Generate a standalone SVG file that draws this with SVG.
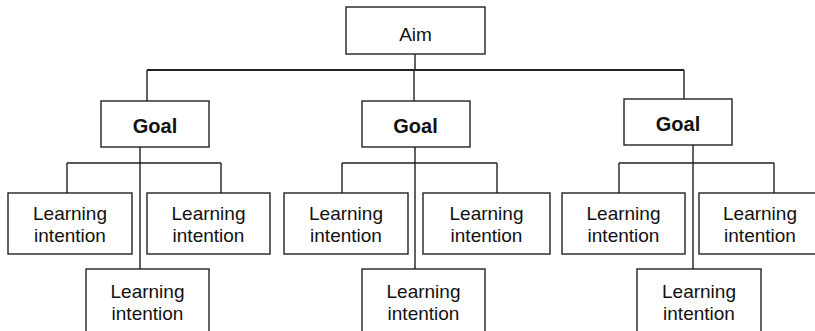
<svg xmlns="http://www.w3.org/2000/svg" width="815" height="331" viewBox="0 0 815 331">
<style>
.box{fill:#fff;stroke:#222;stroke-width:1.4}
.ln{fill:none;stroke:#222;stroke-width:1.4}
.thick{stroke-width:2}
.t{font-family:"Liberation Sans",Arial,Helvetica,sans-serif;font-size:19px;fill:#111;text-anchor:middle}
.g{font-family:"Liberation Sans",Arial,Helvetica,sans-serif;font-size:20px;font-weight:bold;fill:#111;text-anchor:middle}
</style>
<rect width="815" height="331" fill="#fff"/>
<g id="connectors">
<path class="ln" d="M415,54V70M147,70V101M414,70V101M684,70V99"/>
<path class="ln thick" d="M147,70H684"/>
<path class="ln" d="M140,147V269M67,163H221M67,163V193M221,163V193"/>
<path class="ln" d="M415,147V269M342,163H497M342,163V193M497,163V193"/>
<path class="ln" d="M693,145V269M619,163H774M619,163V193M774,163V193"/>
</g>
<g id="aim"><rect class="box" x="346" y="7" width="139" height="47"/><text class="t" x="415.5" y="40.5">Aim</text></g>
<g id="goal1"><rect class="box" x="101" y="101" width="108" height="46"/><text class="g" x="155" y="133">Goal</text></g>
<g id="goal2"><rect class="box" x="362" y="101" width="108" height="46"/><text class="g" x="415.5" y="133">Goal</text></g>
<g id="goal3"><rect class="box" x="624" y="99" width="108" height="46"/><text class="g" x="678" y="131">Goal</text></g>
<g id="li1a"><rect class="box" x="8" y="193" width="124" height="61"/><text class="t" x="70" y="219.5">Learning</text><text class="t" x="70" y="241.5">intention</text></g>
<g id="li1b"><rect class="box" x="147" y="193" width="123" height="61"/><text class="t" x="208.5" y="219.5">Learning</text><text class="t" x="208.5" y="241.5">intention</text></g>
<g id="li1c"><rect class="box" x="86" y="269" width="123" height="70"/><text class="t" x="147.5" y="297.5">Learning</text><text class="t" x="147.5" y="319.5">intention</text></g>
<g id="li2a"><rect class="box" x="284" y="193" width="124" height="61"/><text class="t" x="346" y="219.5">Learning</text><text class="t" x="346" y="241.5">intention</text></g>
<g id="li2b"><rect class="box" x="423" y="193" width="127" height="61"/><text class="t" x="486.5" y="219.5">Learning</text><text class="t" x="486.5" y="241.5">intention</text></g>
<g id="li2c"><rect class="box" x="362" y="269" width="123" height="70"/><text class="t" x="423.5" y="297.5">Learning</text><text class="t" x="423.5" y="319.5">intention</text></g>
<g id="li3a"><rect class="box" x="562" y="193" width="123" height="61"/><text class="t" x="623.5" y="219.5">Learning</text><text class="t" x="623.5" y="241.5">intention</text></g>
<g id="li3b"><rect class="box" x="699" y="193" width="130" height="61"/><text class="t" x="760" y="219.5">Learning</text><text class="t" x="760" y="241.5">intention</text></g>
<g id="li3c"><rect class="box" x="637" y="269" width="124" height="70"/><text class="t" x="699" y="297.5">Learning</text><text class="t" x="699" y="319.5">intention</text></g>
</svg>
